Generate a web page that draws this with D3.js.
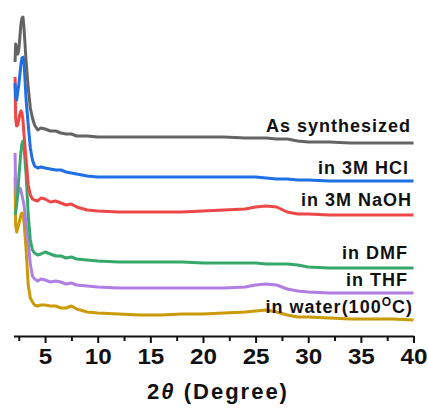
<!DOCTYPE html>
<html>
<head>
<meta charset="utf-8">
<script src="https://cdn.jsdelivr.net/npm/d3@7"></script>
<style>
body { margin: 0; background: #fff; }
svg text { font-family: "Liberation Sans", Arial, sans-serif; font-weight: bold; fill: #111; }
</style>
</head>
<body>
<div id="drawing"></div>
<script>
"use strict"

/**** Configuration ****/
let svgWidth = 428
let svgHeight = 409

/**** DATA (2theta grid + offset intensities) ****/
let twoTheta = [2.15,2.2,2.3,2.4,2.5,2.6,2.7,2.8,2.9,3.0,
  3.2,3.4,3.6,3.8,4.0,4.3,4.6,
  5,5.5,6,6.5,7,7.5,8,
  9,10,
  12,14,16,18,20,22,24,
  25,26,27,28,29,30,
  32,34,36,38,40]

let asSynthesized = [274,292,288,282,286,298,311,318,319,308,
  274,248,228,218,211,206,208,
  207,205,205,203,202,202,200,
  200,199,
  199,199,199,199,199,199,198,
  198,198,197,197,195,194,
  194,193,193,193,193]

let inHCl = [253,239,236,244,251,261,271,278,279,274,
  236,211,188,176,170,168,169,
  168,167,166,166,164,163,162,
  160,159,
  159,159,159,159,159,159,159,
  159,158,157,157,156,156,
  155,155,155,155,155]

let inNaOH = [259,218,210,211,216,222,225,223,216,201,
  176,151,141,137,136,135,138,
  137,134,135,133,131,132,129,
  126,125,
  124,124,124,124,125,126,127,
  129,130,129,124,122,122,
  121,121,121,121,121]

let inDMF = [121,124,131,144,158,171,184,192,195,188,
  161,121,96,86,83,81,82,
  84,82,80,80,78,79,77,
  76,75,
  74,74,74,74,73,73,73,
  73,72,72,72,71,69,
  68,68,68,68,68]

let inTHF = [183,151,136,140,146,148,146,141,136,131,
  111,93,72,60,57,55,57,
  56,54,55,54,52,53,51,
  50,49,
  48,48,48,48,48,48,49,
  51,52,51,47,45,44,
  43,43,43,43,43]

let inWater = [159,111,104,108,112,116,121,123,121,114,
  86,51,38,34,31,30,31,
  31,30,30,28,28,30,27,
  24,23,
  22,21,21,22,22,23,24,
  25,26,24,21,19,19,
  18,17,17,17,16]

let seriesNames = ["in water(100", "in THF", "in DMF", "in 3M NaOH", "in 3M HCl", "As synthesized"]
let seriesValues = [inWater, inTHF, inDMF, inNaOH, inHCl, asSynthesized]
let seriesColors = ["#cb9a08", "#b07ee3", "#37a86b", "#ee4747", "#1f6fe5", "#646464"]

let majorTicks = [5,10,15,20,25,30,35,40]
let minorTicks = [2.5,7.5,12.5,17.5,22.5,27.5,32.5,37.5]

/**** CANVAS ****/
let svg = d3.select("#drawing")
.append("svg")
.attr("width", svgWidth)
.attr("height", svgHeight)

/**** SCALES ****/
let xScale = d3.scaleLinear()
.domain([2, 40])
.range([13.5, 413.5])

let yScale = d3.scaleLinear()
.domain([0, 330])
.range([336, 6])

let line = d3.line()
.x((d, i) => xScale(twoTheta[i]))
.y(d => yScale(d))

/**** CURVES ****/
svg.selectAll("path.curve")
.data(seriesValues)
.join("path")
.attr("class", "curve")
.attr("d", line)
.attr("fill", "none")
.attr("stroke", (d, i) => seriesColors[i])
.attr("stroke-width", 3)
.attr("stroke-linejoin", "round")

/**** X AXIS ****/
let axisY = yScale(0)

svg.append("g")
.attr("transform", `translate(0,${axisY})`)
.call(d3.axisBottom(xScale).tickValues(minorTicks).tickFormat("").tickSize(5).tickSizeOuter(0))
.call(g => g.selectAll("line").attr("stroke", "#111").attr("stroke-width", 2))
.call(g => g.select(".domain").attr("stroke", "#111").attr("stroke-width", 2))

svg.append("g")
.attr("transform", `translate(0,${axisY})`)
.call(d3.axisBottom(xScale).tickValues(majorTicks).tickSize(7).tickSizeOuter(0).tickPadding(5))
.call(g => g.select(".domain").remove())
.call(g => g.selectAll("line").attr("stroke", "#111").attr("stroke-width", 2))
.call(g => g.selectAll("text")
  .style("font-family", "'Liberation Sans', Arial, sans-serif")
  .style("font-weight", "bold")
  .style("font-size", "22px")
  .attr("transform", "scale(1.1,1)")
  .attr("fill", "#111"))

/**** AXIS LABEL ****/
let xLabel = svg.append("text")
.attr("x", 218)
.attr("y", 399)
.style("text-anchor", "middle")
.style("font-size", "22px")
.style("letter-spacing", "2px")

xLabel.append("tspan").text("2")
xLabel.append("tspan").style("font-style", "italic").text("\u03b8")
xLabel.append("tspan").text(" (Degree)")

/**** SERIES LABELS ****/
let labelPos = [
  {x: 413, y: 313},
  {x: 408, y: 286},
  {x: 408, y: 259},
  {x: 412, y: 206},
  {x: 409, y: 174},
  {x: 411, y: 132}
]

seriesNames.forEach(function(name, i) {
  let t = svg.append("text")
  .attr("x", labelPos[i].x)
  .attr("y", labelPos[i].y)
  .style("text-anchor", "end")
  .style("font-size", "18px")
  .style("letter-spacing", "1px")
  .text(name)
  if (i === 0) {
    t.append("tspan").attr("dy", -7).style("font-size", "12px").text("O")
    t.append("tspan").attr("dy", 7).text("C)")
  }
})
</script>
</body>
</html>
